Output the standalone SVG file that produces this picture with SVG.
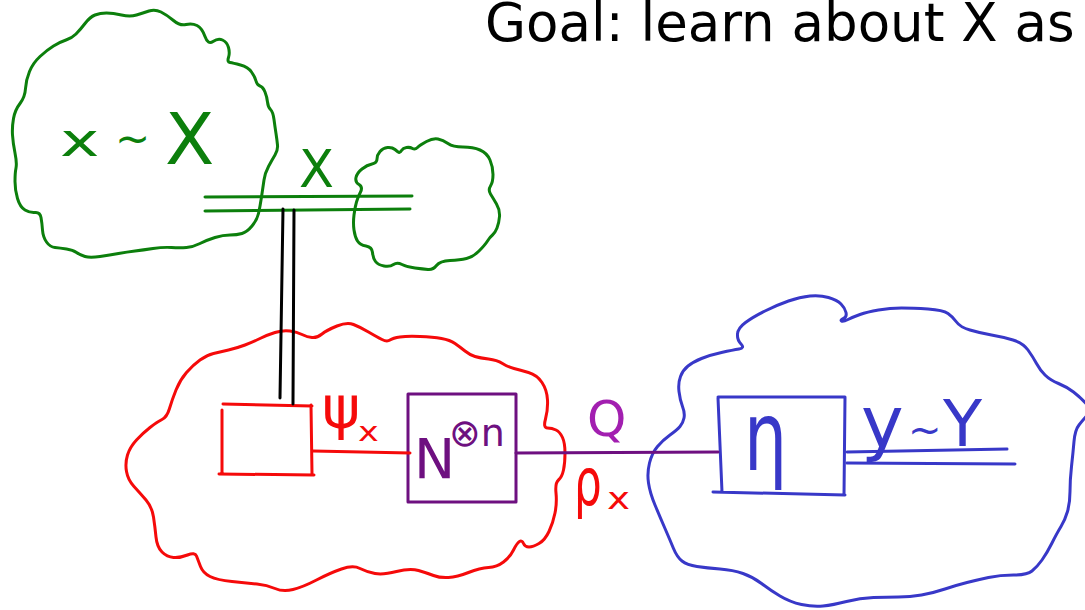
<svg xmlns="http://www.w3.org/2000/svg" width="1085" height="610" viewBox="0 0 1085 610">
  <style>
    .ink { fill: none; stroke-width: 3; stroke-linecap: round; stroke-linejoin: round; }
    .green { stroke: #0c7f0c; }
    .red { stroke: #f50a0a; }
    .blue { stroke: #3838c8; }
    .purple { stroke: #6e1080; }
    .black { stroke: #000; }
    .txt { font-family: "DejaVu Sans", "Liberation Sans", sans-serif; }
    .hand { font-family: "DejaVu Sans", "Liberation Sans", sans-serif; fill: currentColor; }
  </style>
  <rect width="1085" height="610" fill="#fff"/>

  <text class="txt" x="485" y="41" font-size="53" fill="#000">Goal: learn about X as</text>

  <!-- source cloud holding x ~ X -->
  <g id="source">
    <path class="ink green" d="M76,34 Q80,30 85,23.5 Q90,17 95,15 Q100,13 106.5,13 Q113,13 121.5,15 Q130,17 136.5,15 Q143,13 149,11 Q155,9 161,12 Q167,15 173.5,20.5 Q180,26 186,24.5 Q192,23 197,25.5 Q202,28 205,36.5 Q208,45 213,41.5 Q218,38 222.5,40 Q227,42 228.5,47.5 Q230,53 228.5,57.5 Q227,62 230,62.5 Q233,63 240.5,65 Q248,67 251.5,72 Q255,77 256,81 Q257,85 260,86 Q263,87 265,92 Q267,97 267.5,102 Q268,107 270.5,109.5 Q273,112 274,119.5 Q275,127 276,133.5 Q277,140 277.5,145 Q278,150 275,155 Q272,160 268.5,166.5 Q265,173 264,180 Q263,187 261.5,197 Q260,207 258.5,213.5 Q257,220 252,226 Q247,232 242,233.5 Q237,235 230,235 Q223,235 215,237.5 Q207,240 200,243.5 Q193,247 186.5,247.5 Q180,248 171.5,247.5 Q163,247 153,248.5 Q143,250 135,251 Q127,252 118.5,253.5 Q110,255 100,256.5 Q90,258 85,256.5 Q80,255 76.5,252.5 Q73,250 66.5,249 Q60,248 55,247.5 Q50,247 46.5,242 Q43,237 42.5,230 Q42,223 41,217.5 Q40,212 35,212.5 Q30,213 25,210 Q20,207 17.5,198.5 Q15,190 15,181.5 Q15,173 16,168 Q17,163 15,153 Q13,143 12.5,135 Q12,127 13.5,118.5 Q15,110 20,103.5 Q25,97 25.5,88.5 Q26,80 29.5,71.5 Q33,63 40,56.5 Q47,50 53.5,46 Q60,42 66,40 Q72,38 76,34 Z"/>
    <text class="hand" transform="translate(60,156) scale(1.45,1)" font-size="46" color="#0c7f0c">x</text>
    <text class="hand" x="115" y="153" font-size="42" color="#0c7f0c">~</text>
    <text class="hand" x="165" y="164" font-size="72" color="#0c7f0c">X</text>
  </g>

  <!-- environment cloud -->
  <g id="environment">
    <path class="ink green" d="M359,184.5 Q355,182 356,177.5 Q357,173 362,169 Q367,165 372,164 Q377,163 377,159 Q377,155 380,151.5 Q383,148 387.5,147.5 Q392,147 395,149.5 Q398,152 399,152.5 Q400,153 401.5,150.5 Q403,148 406.5,147.5 Q410,147 412.5,148.5 Q415,150 417.5,147.5 Q420,145 426.5,141.5 Q433,138 438,139 Q443,140 448,143.5 Q453,147 463,147 Q473,147 480,150 Q487,153 490,160 Q493,167 493,174.5 Q493,182 490.5,186 Q488,190 490.5,194 Q493,198 496.5,204 Q500,210 499.5,216.5 Q499,223 497,228 Q495,233 492.5,235 Q490,237 487.5,241 Q485,245 479,251 Q473,257 466.5,258.5 Q460,260 450,260.5 Q440,261 436.5,265.5 Q433,270 428,269.5 Q423,269 415,268 Q407,267 402,264.5 Q397,262 393.5,264.5 Q390,267 384,266 Q378,265 375.5,261.5 Q373,258 372.5,252.5 Q372,247 366,246 Q360,245 357.5,241 Q355,237 354,230 Q353,223 354,215 Q355,207 356.5,202 Q358,197 360.5,192 Q363,187 359,184.5 Z"/>
  </g>

  <!-- encoder cloud with state preparation and channel -->
  <g id="encoder">
    <path class="ink red" d="M275,332.5 Q267,335 260,338.5 Q253,342 245,345 Q237,348 228.5,350 Q220,352 213.5,353.5 Q207,355 200,360 Q193,365 186.5,372.5 Q180,380 176,390 Q172,400 169.5,408.5 Q167,417 162,419.5 Q157,422 150,427.5 Q143,433 136.5,440 Q130,447 127.5,455 Q125,463 126.5,471.5 Q128,480 134,486.5 Q140,493 146,500 Q152,507 153.5,517 Q155,527 156,537 Q157,547 162,552 Q167,557 173.5,557.5 Q180,558 187.5,555 Q195,552 196.5,556 Q198,560 200.5,566.5 Q203,573 210,576.5 Q217,580 232,581.5 Q247,583 257,584 Q267,585 275,588.5 Q283,592 293,589.5 Q303,587 316.5,580 Q330,573 341.5,569 Q353,565 360,568.5 Q367,572 375,573.5 Q383,575 396.5,571.5 Q410,568 418.5,570.5 Q427,573 433.5,575.5 Q440,578 448.5,577.5 Q457,577 468.5,572.5 Q480,568 488.5,567.5 Q497,567 503.5,562 Q510,557 513.5,550 Q517,543 519.5,541.5 Q522,540 523.5,543.5 Q525,547 529,547 Q533,547 539,543.5 Q545,540 549,531.5 Q553,523 555,513 Q557,503 556,493 Q555,483 558.5,480 Q562,477 563.5,470 Q565,463 565,453 Q565,443 562.5,437.5 Q560,432 556,430 Q552,428 547.5,428 Q543,428 545.5,419 Q548,410 547.5,400 Q547,390 542,382.5 Q537,375 528.5,372.5 Q520,370 514,368.5 Q508,367 502.5,363.5 Q497,360 488.5,359 Q480,358 475,356.5 Q470,355 465,351 Q460,347 455,343.5 Q450,340 441.5,338.5 Q433,337 420,336.5 Q407,336 400,337 Q393,338 390,340 Q387,342 382,339.5 Q377,337 368.5,332 Q360,327 353.5,324.5 Q347,322 337,326 Q327,330 322,334 Q317,338 312,337.5 Q307,337 302,334.5 Q297,332 290,331 Q283,330 275,332.5 Z"/>
  </g>

  <g id="prep-box">
    <path class="ink red" d="M223,404 L312,406 M222,410 L222,474 M219,474 L314,475 M311,405 L312,474"/>
  </g>

  <g id="channel">
    <rect class="ink purple" x="408" y="394" width="108" height="108" stroke-linejoin="miter"/>
    <text class="txt" x="414" y="478" font-size="55" fill="#6e1080">N</text>
    <text class="hand" x="449" y="446" font-size="38" color="#6e1080">⊗n</text>
  </g>

  <!-- decoder cloud -->
  <g id="decoder">
    <path class="ink blue" d="M741,344 Q737,340 737.5,334 Q738,328 745.5,322.5 Q753,317 765,311 Q777,305 788.5,301 Q800,297 810,296 Q820,295 828.5,297.5 Q837,300 841,304 Q845,308 846,312.5 Q847,317 843.5,318.5 Q840,320 841.5,321 Q843,322 848,319.5 Q853,317 860,314.5 Q867,312 878.5,310 Q890,308 901.5,308 Q913,308 928,309 Q943,310 948,313.5 Q953,317 956.5,322 Q960,327 970,330 Q980,333 991.5,335 Q1003,337 1013,340 Q1023,343 1028,350 Q1033,357 1036.5,363.5 Q1040,370 1045,375 Q1050,380 1058.5,383.5 Q1067,387 1073.5,392 Q1080,397 1086,403.5 Q1092,410 1087.5,415 Q1083,420 1079,425 Q1075,430 1074,441.5 Q1073,453 1071.5,466.5 Q1070,480 1070,491.5 Q1070,503 1067.5,511.5 Q1065,520 1061,526.5 Q1057,533 1052,543 Q1047,553 1042,560 Q1037,567 1032,571 Q1027,575 1013.5,575 Q1000,575 988.5,577.5 Q977,580 967,582.5 Q957,585 945,589 Q933,593 921.5,595 Q910,597 898.5,597 Q887,597 873.5,597.5 Q860,598 846.5,601.5 Q833,605 823,606 Q813,607 801.5,604.5 Q790,602 780,596 Q770,590 761.5,583.5 Q753,577 743,573.5 Q733,570 720,569 Q707,568 697,566.5 Q687,565 682,561 Q677,557 673.5,548.5 Q670,540 665,528.5 Q660,517 655,505 Q650,493 648.5,483 Q647,473 649.5,463 Q652,453 657.5,446.5 Q663,440 670,435 Q677,430 680,426.5 Q683,423 684,418 Q685,413 682.5,406.5 Q680,400 679,391.5 Q678,383 680.5,376.5 Q683,370 688,366 Q693,362 701.5,358.5 Q710,355 721.5,352.5 Q733,350 739,349 Q745,348 741,344 Z"/>
  </g>

  <g id="measurement">
    <path class="ink blue" d="M718,397 L845,397 M718,398 L722,492 M713,492 L845,495 M845,397 L844,495"/>
    <text class="hand" transform="translate(744,470) scale(0.85,1.2)" font-size="80" color="#3838c8">η</text>
  </g>

  <!-- wires -->
  <g id="connectors">
    <path class="ink green" d="M205,197 L412,196 M205,211 L410,209"/>
    <path class="ink black" d="M283,209 L280,398 M294,210 L293,404"/>
    <path class="ink red" d="M313,451 L410,453"/>
    <path class="ink purple" d="M516,453 L718,452"/>
    <path class="ink blue" d="M847,452 L1007,449 M847,463 L1015,464"/>
  </g>

  <!-- wire labels -->
  <g id="labels">
    <text class="txt" x="299" y="187" font-size="51" fill="#0c7f0c">X</text>
    <text class="hand" x="322" y="428" font-size="58" color="#f50a0a">ψ</text>
    <text class="hand" transform="translate(358,441) scale(1.35,1)" font-size="26" color="#f50a0a">x</text>
    <text class="txt" x="587" y="436" font-size="50" fill="#a21fb0">Q</text>
    <text class="hand" transform="translate(574,505) scale(0.95,1.45)" font-size="46" color="#f50a0a">ρ</text>
    <text class="hand" transform="translate(607,509) scale(1.3,1)" font-size="30" color="#f50a0a">x</text>
    <text class="hand" x="861" y="447" font-size="72" color="#3838c8">y</text>
    <text class="hand" x="908" y="444" font-size="40" color="#3838c8">~</text>
    <text class="hand" x="943" y="446" font-size="64" color="#3838c8">Y</text>
  </g>
</svg>
